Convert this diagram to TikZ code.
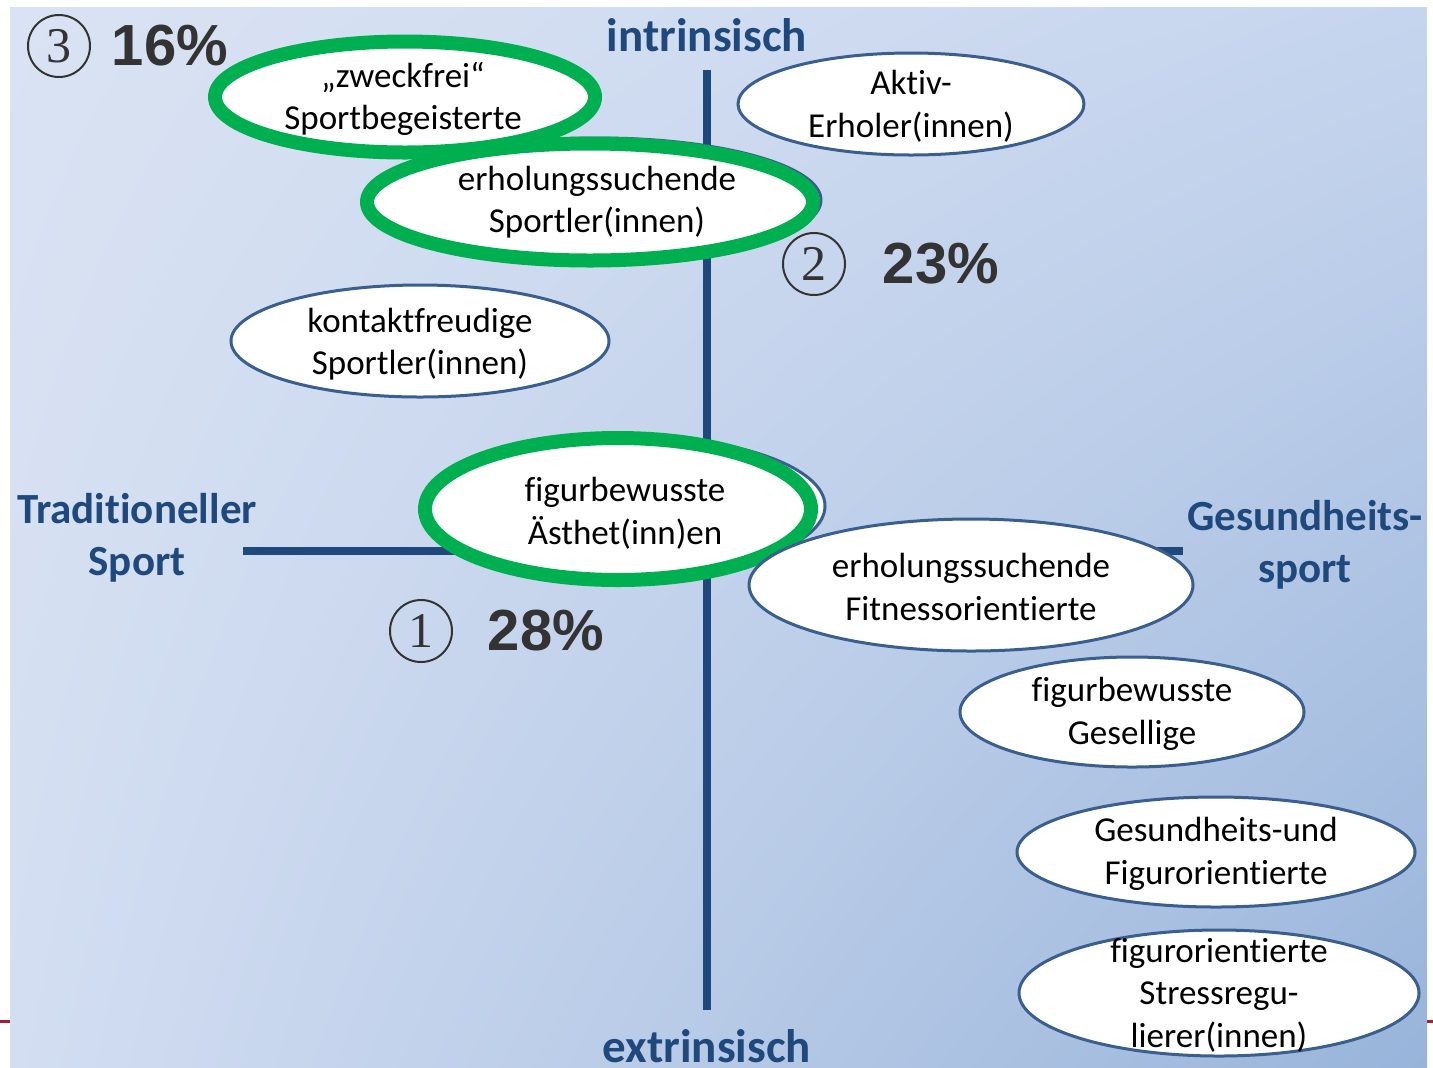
\documentclass[tikz,border=0pt]{standalone}
\usepackage{fontspec}
\setmainfont{Carlito}[Ligatures={NoCommon,NoRequired,NoContextual,NoRare}]
\newfontfamily\pctfont{Liberation Sans}
\newfontfamily\numfont{Liberation Serif}
\usetikzlibrary{shapes.geometric,shadings}
\definecolor{axisblue}{HTML}{1F497D}
\definecolor{ellblue}{HTML}{3A5F8F}
\definecolor{sgreen}{HTML}{00B050}
\definecolor{pctgray}{HTML}{333333}
\definecolor{bgTL}{HTML}{DAE3F3}
\definecolor{bgTR}{HTML}{C6D5EE}
\definecolor{bgBL}{HTML}{D3DEF2}
\definecolor{bgBR}{HTML}{98B4DA}
\definecolor{redmark}{HTML}{A31F34}
\tikzset{
  blueell/.style={ellipse, draw=ellblue, line width=1.5pt, fill=white, inner sep=0pt},
  greenell/.style={ellipse, draw=sgreen, line width=7pt, fill=white, inner sep=0pt},
  etext/.style={align=center, font=\fontsize{17.5}{21.3}\selectfont, inner sep=0pt},
  axislabel/.style={align=center, text=axisblue, font=\fontsize{21.5}{26}\selectfont\bfseries, inner sep=0pt},
  vaxislabel/.style={text=axisblue, font=\fontsize{23.5}{28}\selectfont\bfseries, inner sep=0pt},
  pct/.style={text=pctgray, font=\pctfont\fontsize{29}{32}\selectfont\bfseries, inner sep=0pt},
  numcirc/.style={circle, draw=pctgray, line width=1pt, minimum size=31pt, inner sep=0pt, font=\numfont\fontsize{25}{28}\selectfont, text=pctgray},
  axisline/.style={draw=axisblue, line width=4pt},
  redline/.style={draw=redmark, line width=1.5pt}
}
\begin{document}
\begin{tikzpicture}[x=0.5pt,y=-0.5pt]
\useasboundingbox (0,0) rectangle (1433,1067);
% background
\shade[upper left=bgTL, upper right=bgTR, lower left=bgBL, lower right=bgBR] (10,7) rectangle (1427,1067);
\coordinate (rl1) at (0,1021); \coordinate (rl2) at (10,1021);
\coordinate (rr1) at (1427,1021); \coordinate (rr2) at (1433,1021);
\draw[redline] (rl1) -- (rl2);
\draw[redline] (rr1) -- (rr2);
% axes
\coordinate (vtop) at (707,70); \coordinate (vbot) at (707,1010);
\coordinate (hleft) at (243,551); \coordinate (hright) at (1183,551);
\draw[axisline] (vtop) -- (vbot);
\draw[axisline] (hleft) -- (hright);
% ellipses
\node[blueell, minimum width=173pt, minimum height=51pt] (e3) at (911,104) {};
\node[blueell, minimum width=189pt, minimum height=56pt] (e4) at (420,341) {};
\node[blueell, minimum width=190pt, minimum height=55pt] (b1) at (405,97) {};
\node[greenell, minimum width=190pt, minimum height=55.5pt] (e1) at (405,97) {};
\node[blueell, minimum width=222pt, minimum height=62pt] (b2) at (599,200) {};
\node[greenell, minimum width=223pt, minimum height=58.5pt] (e2) at (590,202) {};
\node[blueell, minimum width=197pt, minimum height=70pt] (b5) at (628,506) {};
\node[greenell, minimum width=193pt, minimum height=71pt] (e5) at (618,509) {};
\node[blueell, minimum width=222pt, minimum height=66pt] (e6) at (971,585) {};
\node[blueell, minimum width=172pt, minimum height=55pt] (e7) at (1132,712) {};
\node[blueell, minimum width=199pt, minimum height=55pt] (e8) at (1216,852) {};
\node[blueell, minimum width=200pt, minimum height=63pt] (e9) at (1219,993) {};
% ellipse texts
\node[etext] (t1) at (403,99) {„zweckfrei“\\Sportbegeisterte};
\node[etext] (t2) at (597,202) {erholungssuchende\\Sportler(innen)};
\node[etext] (t3) at (911,106) {Aktiv-\\Erholer(innen)};
\node[etext] (t4) at (420,344) {kontaktfreudige\\Sportler(innen)};
\node[etext] (t5) at (625,513) {figurbewusste\\Ästhet(inn)en};
\node[etext] (t6) at (971,587) {erholungssuchende\\Fitnessorientierte};
\node[etext] (t7) at (1132,714) {figurbewusste\\Gesellige};
\node[etext] (t8) at (1216,854) {Gesundheits-und\\Figurorientierte};
\node[etext] (t9) at (1219,995) {figurorientierte\\Stressregu-\\lierer(innen)};
% axis labels
\node[vaxislabel, anchor=base] (lint) at (707,51) {intrinsisch};
\node[vaxislabel, anchor=base] (lext) at (707,1062) {extrinsisch};
\node[axislabel] (ltrad) at (137,538) {Traditioneller\\Sport};
\node[axislabel] (lges) at (1305,545) {Gesundheits-\\sport};
% numbers and percentages
\node[numcirc] (n3) at (59,46) {3};
\node[pct] (p3) at (170,46) {16\%};
\node[numcirc] (n2) at (814,264) {2};
\node[pct] (p2) at (941,264) {23\%};
\node[numcirc] (n1) at (421,631) {1};
\node[pct] (p1) at (546,631) {28\%};
\end{tikzpicture}
\end{document}
